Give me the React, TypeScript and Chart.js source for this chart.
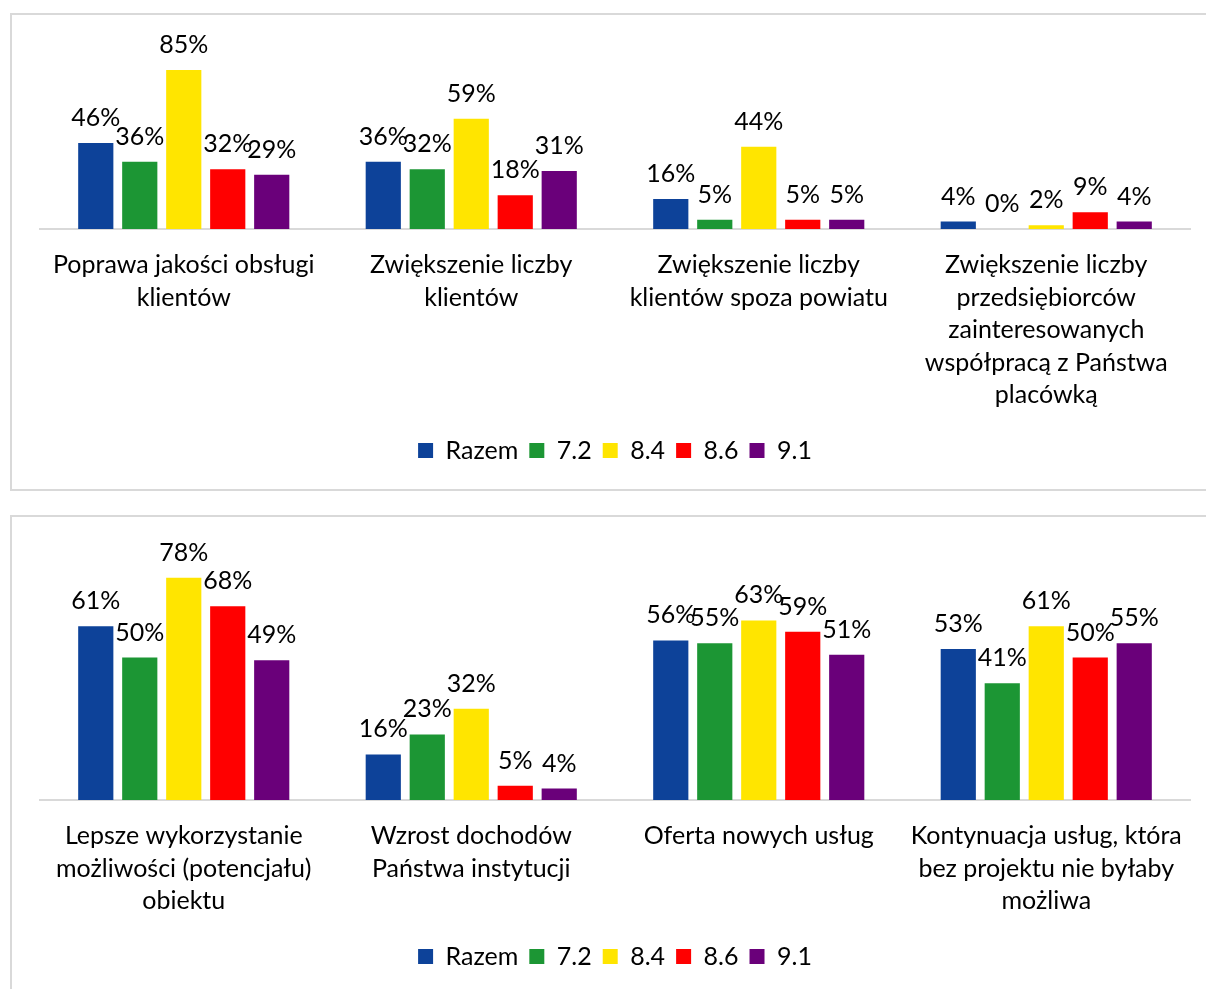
import React, { useEffect, useRef } from "react";
import { Chart, registerables } from "chart.js";

Chart.register(...registerables);

// ---------- DATA ----------
const seriesNames = ["Razem", "7.2", "8.4", "8.6", "9.1"];
const seriesColors = ["#0D4299", "#1C9634", "#FFE500", "#FF0000", "#6A007A"];

const topCategories: string[][] = [
  ["Poprawa jakości obsługi", "klientów"],
  ["Zwiększenie liczby", "klientów"],
  ["Zwiększenie liczby", "klientów spoza powiatu"],
  ["Zwiększenie liczby", "przedsiębiorców", "zainteresowanych", "współpracą z Państwa", "placówką"],
];
const topRazem = [46, 36, 16, 4];
const top72 = [36, 32, 5, 0];
const top84 = [85, 59, 44, 2];
const top86 = [32, 18, 5, 9];
const top91 = [29, 31, 5, 4];

const bottomCategories: string[][] = [
  ["Lepsze wykorzystanie", "możliwości (potencjału)", "obiektu"],
  ["Wzrost dochodów", "Państwa instytucji"],
  ["Oferta nowych usług"],
  ["Kontynuacja usług, która", "bez projektu nie byłaby", "możliwa"],
];
const bottomRazem = [61, 16, 56, 53];
const bottom72 = [50, 23, 55, 41];
const bottom84 = [78, 32, 63, 61];
const bottom86 = [68, 5, 59, 50];
const bottom91 = [49, 4, 51, 55];

const FONT = "Lato";
const FS = 25;

const valueLabels = {
  id: "valueLabels",
  afterDatasetsDraw(chart: any) {
    const ctx = chart.ctx;
    ctx.save();
    ctx.font = `${FS}px ${FONT}`;
    ctx.fillStyle = "#000000";
    ctx.textAlign = "center";
    ctx.textBaseline = "alphabetic";
    chart.data.datasets.forEach((ds: any, i: number) => {
      const meta = chart.getDatasetMeta(i);
      meta.data.forEach((bar: any, j: number) => {
        ctx.fillText(`${ds.data[j]}%`, bar.x, bar.y - 17);
      });
    });
    ctx.restore();
  },
};

type Props = {
  categories: string[][];
  series: number[][];
  yMax: number;
  width: number;
  height: number;
  padTop: number;
  axisHeight: number;
};

function BarChart({ categories, series, yMax, width, height, padTop, axisHeight }: Props) {
  const ref = useRef<HTMLCanvasElement>(null);
  useEffect(() => {
    if (!ref.current) return;
    const chart = new Chart(ref.current, {
      type: "bar",
      data: {
        labels: categories,
        datasets: series.map((d, i) => ({
          label: seriesNames[i],
          data: d,
          backgroundColor: seriesColors[i],
          borderWidth: 0,
          barPercentage: 0.8,
          categoryPercentage: 0.765,
        })),
      },
      options: {
        responsive: false,
        animation: false,
        devicePixelRatio: 1,
        layout: { padding: { top: padTop, left: 28, right: 16, bottom: 16 } },
        plugins: {
          tooltip: { enabled: false },
          legend: {
            position: "bottom",
            labels: {
              boxWidth: 15,
              boxHeight: 15,
              padding: 11,
              color: "#000000",
              font: { family: FONT, size: FS },
            },
          },
        },
        scales: {
          x: {
            grid: { display: false },
            border: { display: true, color: "#D9D9D9", width: 2 },
            ticks: {
              color: "#000000",
              padding: 12,
              maxRotation: 0,
              autoSkip: false,
              font: { family: FONT, size: FS, lineHeight: "32.5px" },
            },
            afterFit: (s: any) => {
              s.height = axisHeight;
            },
          },
          y: {
            display: false,
            min: 0,
            max: yMax,
          },
        },
      },
      plugins: [valueLabels],
    });
    return () => chart.destroy();
  }, []);
  return <canvas ref={ref} width={width} height={height} style={{ display: "block" }} />;
}

export default function App() {
  const boxStyle: React.CSSProperties = {
    position: "absolute",
    left: 10,
    width: 1210,
    boxSizing: "border-box",
    border: "2px solid #D9D9D9",
    background: "#fff",
  };
  return (
    <div
      style={{
        position: "absolute",
        left: 0,
        top: 0,
        width: 1206,
        height: 989,
        overflow: "hidden",
        background: "#fff",
      }}
    >
      <div style={{ ...boxStyle, top: 13, height: 478 }}>
        <BarChart
          categories={topCategories}
          series={[topRazem, top72, top84, top86, top91]}
          yMax={100}
          width={1194}
          height={474}
          padTop={27}
          axisHeight={198}
        />
      </div>
      <div style={{ ...boxStyle, top: 515, height: 490 }}>
        <BarChart
          categories={bottomCategories}
          series={[bottomRazem, bottom72, bottom84, bottom86, bottom91]}
          yMax={90}
          width={1194}
          height={478}
          padTop={26.5}
          axisHeight={133}
        />
      </div>
    </div>
  );
}
